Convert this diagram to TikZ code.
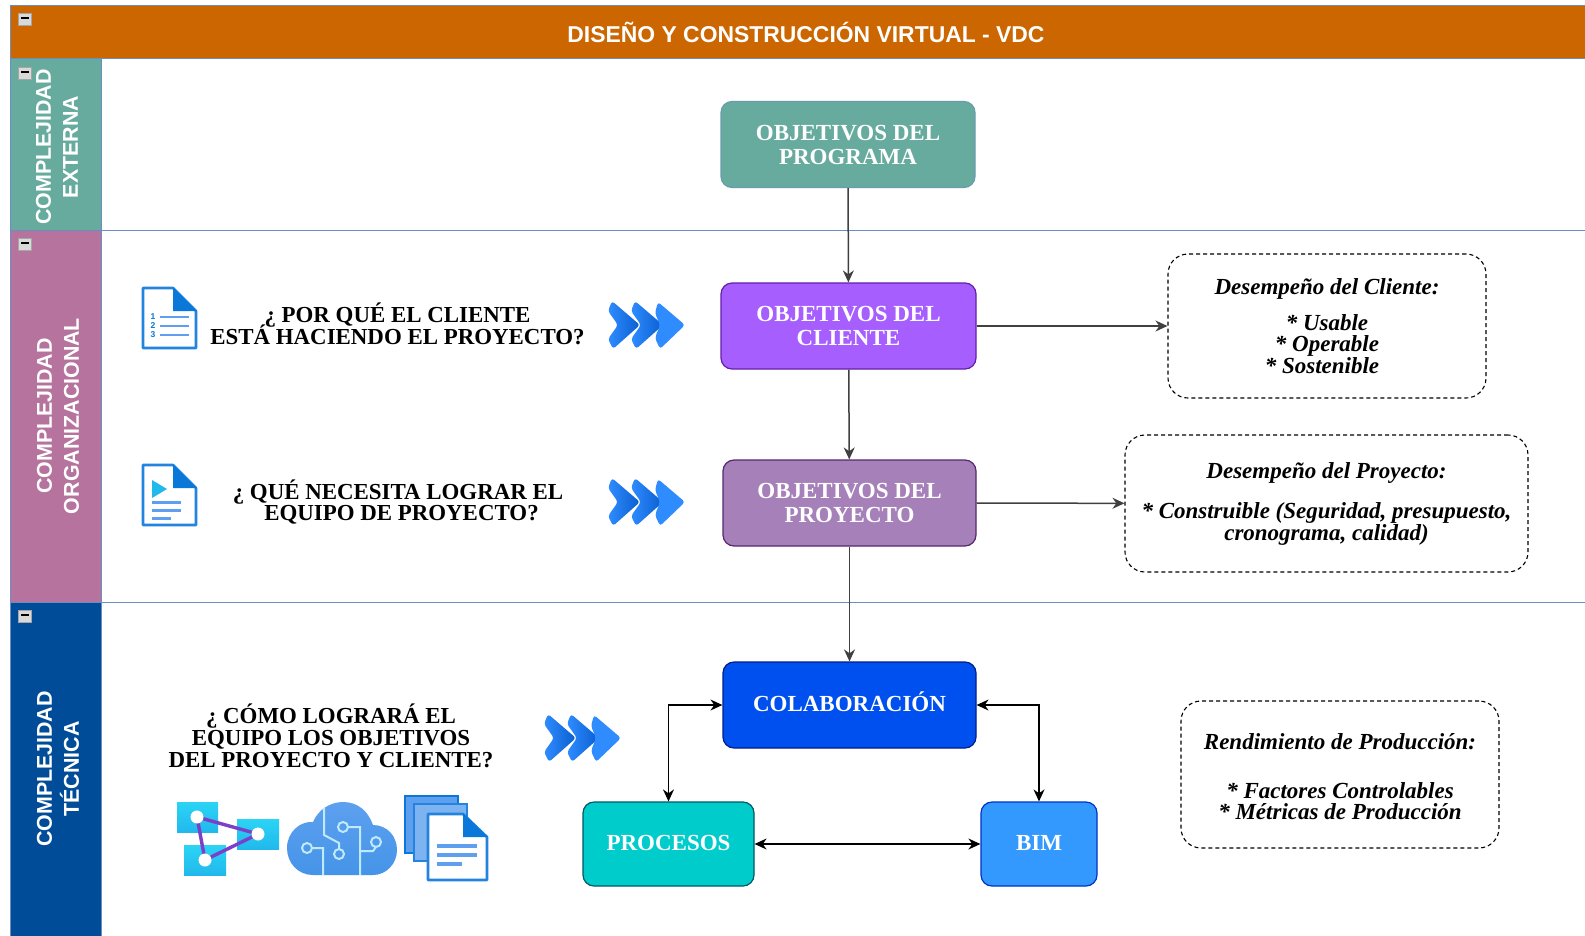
\documentclass[tikz,border=0pt]{standalone}
\usepackage{fontspec}
\setmainfont{Liberation Serif}
\setsansfont{Liberation Sans}
\usetikzlibrary{arrows.meta}

\lineskiplimit=-20pt
\normallineskiplimit=-20pt

\definecolor{bandorange}{HTML}{CC6600}
\definecolor{laneteal}{HTML}{67AB9F}
\definecolor{lanemauve}{HTML}{B5739D}
\definecolor{laneblue}{HTML}{004C99}
\definecolor{laneline}{HTML}{6C8EBF}
\definecolor{iconblue}{HTML}{0A78D8}
\definecolor{iconlight}{HTML}{5EA0EF}
\definecolor{iconcyan}{HTML}{2BD4F5}
\definecolor{iconviolet}{HTML}{7B3FC8}
\definecolor{chevlight}{HTML}{2F8CFF}
\definecolor{chevdark}{HTML}{0A5ED0}
\definecolor{arrowgray}{HTML}{404040}

\tikzset{
  lanehead/.style={draw=laneline,line width=1pt},
  lanetext/.style={rotate=90,align=center,text=white,font=\sffamily\bfseries\fontsize{21.4}{27}\selectfont},
  lanebtn/.style={draw=gray!70,fill=gray!30,minimum width=13pt,minimum height=12pt,inner sep=0pt,
    label={[text=black,inner sep=0pt]center:\rule[1.5pt]{8pt}{2pt}}},
  goalbox/.style={draw,rounded corners=11pt,line width=1.2pt,minimum height=86pt,align=center,text=white,
    font=\bfseries\fontsize{23}{24}\selectfont},
  oneline/.style={text height=15pt,text depth=2pt},
  askbox/.style={align=center,inner sep=0pt,font=\bfseries\fontsize{22.9}{21.7}\selectfont},
  notebox/.style={draw,dash pattern=on 4pt off 3pt,rounded corners=20pt,line width=1.1pt,align=center,
    font=\bfseries\itshape\fontsize{23}{21.5}\selectfont},
  flow/.style={-{Stealth[length=12pt,width=11pt]},draw=arrowgray,line width=1.5pt},
  flowboth/.style={{Stealth[length=12pt,width=11pt]}-{Stealth[length=12pt,width=11pt]},draw=black,line width=1.3pt},
}

% three blue chevrons
\newcommand{\chevrons}[2]{
  \begin{scope}[shift={(#1,#2)}]
    \foreach \dx in {0,23}
      \shade [left color=chevlight,right color=chevdark,rounded corners=3pt,xshift=\dx pt]
        (4,-24)--(32,0)--(5,24)--(0,14)--(10,0)--(0,-14)--cycle;
    \fill [color=chevlight,rounded corners=3pt] (50,-23)--(77,0)--(52,24)--(47,13)--(52,0)--(47,-12)--cycle;
  \end{scope}
}
% page with folded corner
\newcommand{\pageicon}[2]{
  \draw [iconblue!70!iconlight,fill=white,line width=2.6pt,line join=round,shift={(#1,#2)}] (1,1)--(31,1)--(54,24)--(54,61)--(1,61)--cycle;
  \fill [iconblue,shift={(#1,#2)}] (31,0)--(55,24)--(31,24)--cycle;
}

\begin{document}
\begin{tikzpicture}[x=1pt,y=-1pt]
  \useasboundingbox (0,0) rectangle (1585,935);
  \fill [white] (0,0) rectangle (1585,935);

  % lanes
  \draw [lanehead,fill=bandorange] (10,5) rectangle (1590,58.5);
  \draw [lanehead,fill=laneteal] (10,58.5) rectangle (101.5,230.5);
  \draw [lanehead,fill=lanemauve] (10,230.5) rectangle (101.5,602.5);
  \draw [lanehead,fill=laneblue] (10,602.5) rectangle (101.5,940);
  \draw [lanehead] (101.5,230.5)--(1590,230.5);
  \draw [lanehead] (101.5,602.5)--(1590,602.5);
  \draw [lanehead] (101.5,58.5)--(1590,58.5);
  \node (title) [text=white,font=\sffamily\bfseries\fontsize{22.9}{24}\selectfont] at (806,32.5) {DISEÑO Y CONSTRUCCIÓN VIRTUAL - VDC};
  \node (exttext) [lanetext] at (57,147) {COMPLEJIDAD\\EXTERNA};
  \node (orgtext) [lanetext] at (58,416) {COMPLEJIDAD\\ORGANIZACIONAL};
  \node (tectext) [lanetext] at (58,769) {COMPLEJIDAD\\TÉCNICA};
  \node (btnband) [lanebtn] at (25,19) {};
  \node (btnext) [lanebtn] at (25,73) {};
  \node (btnorg) [lanebtn] at (25,244) {};
  \node (btntec) [lanebtn] at (25,616) {};

  % goals
  \node (programa) [goalbox,fill=laneteal,draw=laneline!50!laneteal,minimum width=254pt] at (848,144.5) {OBJETIVOS DEL\\PROGRAMA};
  \node (cliente) [goalbox,fill={rgb,255:red,166;green,94;blue,255},draw={rgb,255:red,100;green,30;blue,170},minimum width=255pt] at (848.5,326) {OBJETIVOS DEL\\CLIENTE};
  \node (proyecto) [goalbox,fill={rgb,255:red,166;green,128;blue,184},draw={rgb,255:red,86;green,40;blue,110},minimum width=253pt] at (849.5,503) {OBJETIVOS DEL\\PROYECTO};
  \node (colab) [goalbox,oneline,fill={rgb,255:red,0;green,80;blue,239},draw={rgb,255:red,0;green,29;blue,140},minimum width=253pt] at (849.5,705) {COLABORACIÓN};
  \node (procesos) [goalbox,oneline,fill={rgb,255:red,0;green,204;blue,204},draw={rgb,255:red,0;green,90;blue,100},minimum width=171pt,minimum height=84pt] at (668.5,844) {PROCESOS};
  \node (bim) [goalbox,oneline,fill={rgb,255:red,51;green,153;blue,255},draw={rgb,255:red,0;green,50;blue,200},minimum width=116pt,minimum height=84pt] at (1039,844) {BIM};

  % notes
  \node (notecliente) [notebox,minimum width=318pt,minimum height=144pt] at (1327,326) {Desempeño del Cliente:\\[14pt]* Usable\hspace*{14pt}\\* Operable\hspace*{14pt}\\* Sostenible\hspace*{10pt}};
  \node (noteproyecto) [notebox,minimum width=403pt,minimum height=137pt] at (1326.5,503.5) {Desempeño del Proyecto:\\[19pt]* Construible (Seguridad, presupuesto,\\cronograma, calidad)};
  \node (noteprod) [notebox,minimum width=318pt,minimum height=147pt] at (1340,774.5) {\rule{0pt}{21pt}Rendimiento de Producción:\\[27pt]* Factores Controlables\\* Métricas de Producción};

  % connectors
  \draw [flow] (programa)--(cliente);
  \draw [flow] (cliente)--(proyecto);
  \draw [flow] (proyecto)--(colab);
  \draw [flow] (cliente)--(notecliente);
  \draw [flow] (proyecto)--(noteproyecto);
  \draw [flowboth] (colab.west) -| (procesos.north);
  \draw [flowboth] (colab.east) -| (bim.north);
  \draw [flowboth] (procesos)--(bim);

  % questions
  \node (askcliente) [askbox] at (397.5,323.5) {¿ POR QUÉ EL CLIENTE\\ESTÁ HACIENDO EL PROYECTO?};
  \node (askproyecto) [askbox] at (398,502) {¿ QUÉ NECESITA LOGRAR EL\\\hspace*{7pt}EQUIPO DE PROYECTO?};
  \node (asktecnica) [askbox] at (331,736) {¿ CÓMO LOGRARÁ EL\\EQUIPO LOS OBJETIVOS\\DEL PROYECTO Y CLIENTE?};
  \chevrons{608}{325}
  \chevrons{608}{502}
  \chevrons{544}{738}

  % page icons
  \pageicon{142}{287}
  \draw [iconlight,line width=2.2pt] (160,317)--(189,317) (160,326)--(189,326) (160,335)--(189,335);
  \node (numlist) [inner sep=0pt,text=iconblue,align=center,font=\sffamily\bfseries\fontsize{8.5}{9}\selectfont] at (153,326) {1\\2\\3};
  \pageicon{142}{464}
  \fill [iconcyan!70!iconblue] (152,480)--(167,489)--(152,498)--cycle;
  \draw [iconlight,line width=3pt] (152,502)--(181,502) (152,510)--(181,510) (152,518)--(171,518);

  % network icon
  \shade [top color=iconcyan,bottom color=iconcyan!70!iconblue] (177,802) rectangle (218,832);
  \shade [top color=iconcyan,bottom color=iconcyan!70!iconblue] (237,819) rectangle (279,849);
  \shade [top color=iconcyan,bottom color=iconcyan!70!iconblue] (184,845) rectangle (226,875);
  \draw [iconviolet,line width=3.4pt] (197,817)--(258,834)--(205,860)--cycle;
  \fill [white] (197,817) circle [radius=6.5];
  \fill [white] (258,834) circle [radius=6.5];
  \fill [white] (205,860) circle [radius=6.5];

  % cloud icon
  \shade [top color=iconlight,bottom color=iconlight!70!iconblue]
    (313,875) .. controls (298,875) and (287,863) .. (287,848)
    .. controls (287,832) and (300,821) .. (313,822)
    .. controls (318,810) and (330,802) .. (343,802)
    .. controls (358,802) and (368,811) .. (373,825)
    .. controls (387,825) and (397,836) .. (397,850)
    .. controls (397,864) and (386,875) .. (373,875)--cycle;
  \draw [cyan!25,line width=2pt] (324,808)--(324,835)--(339,843)--(339,849);
  \draw [cyan!25,line width=2pt] (339,854) circle [radius=5];
  \draw [cyan!25,line width=2pt] (307,848) circle [radius=5] (312,848)--(323,848)--(323,875);
  \draw [cyan!25,line width=2pt] (343,827) circle [radius=5] (348,827)--(360,827)--(360,875);
  \draw [cyan!25,line width=2pt] (376,842) circle [radius=5] (376,847)--(373,851)--(361,851);

  % stacked pages icon
  \draw [iconblue,fill=iconlight,line width=2.6pt] (405,796) rectangle (458,853);
  \draw [iconblue!70!iconlight,fill=iconlight!80!white,line width=2.6pt] (414,804) rectangle (467,861);
  \draw [iconblue!70!iconlight,fill=white,line width=2.6pt,line join=round] (428,814)--(463,814)--(487,837)--(487,880)--(428,880)--cycle;
  \fill [iconblue] (463,813)--(488,837)--(463,837)--cycle;
  \draw [iconlight,line width=3.8pt] (437,846)--(477,846) (437,855)--(477,855) (437,864)--(462,864);
\end{tikzpicture}
\end{document}
